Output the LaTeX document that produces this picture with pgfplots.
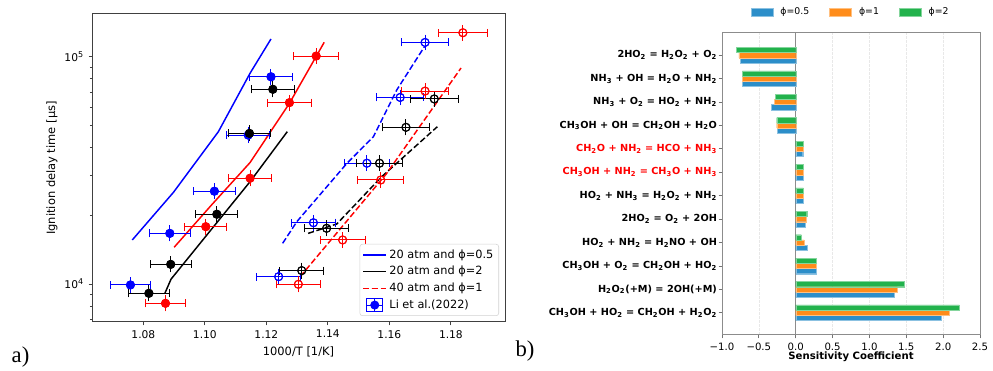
\documentclass[border=0pt]{standalone}
\usepackage{fontspec}
\setmainfont{DejaVu Sans}
\newfontfamily\serifa{Liberation Serif}
\usepackage{pgfplots}
\usepackage{pgfplotstable}
\pgfplotsset{compat=1.18}
\definecolor{cblue}{RGB}{44,142,201}
\definecolor{corange}{RGB}{255,140,26}
\definecolor{cgreen}{RGB}{34,178,76}
\newcommand{\s}[1]{\textsubscript{#1}}

% ---------- panel a data ----------
\pgfplotstableread{
x y ex
1.0758 9900 0.00648
1.0886 16700 0.00664
1.1031 25600 0.00681
1.1141 45200 0.00695
1.1215 81600 0.00704
}\bluefill
\pgfplotstableread{
x y ex
1.0818 9100 0.00655
1.0889 12200 0.00664
1.1039 20270 0.00682
1.1145 46000 0.00696
1.1221 71900 0.00705
}\blackfill
\pgfplotstableread{
x y ex
1.0872 8220 0.00662
1.1003 17870 0.00678
1.1147 29200 0.00696
1.1275 62800 0.00712
1.1362 100700 0.00723
}\redfill
\pgfplotstableread{
x y ex
1.1240 10770 0.00707
1.1353 18600 0.00722
1.1527 34000 0.00744
1.1635 66200 0.00758
1.1716 115600 0.00769
}\blueopen
\pgfplotstableread{
x y ex
1.1315 11450 0.00717
1.1396 17580 0.00727
1.1568 34000 0.00749
1.1654 48900 0.00761
1.1746 65200 0.00773
}\blackopen
\pgfplotstableread{
x y ex
1.1304 9970 0.00716
1.1448 15620 0.00734
1.1572 28680 0.00750
1.1716 70600 0.00769
1.1839 127500 0.00785
}\redopen

\pgfplotsset{
 exptx/.style={only marks, mark size=3pt, line width=0.75pt,
   error bars/x dir=both, error bars/x explicit,
   error bars/error mark=|,
   error bars/error bar style={line width=0.75pt, solid},
   error bars/error mark options={mark size=3pt, line width=0.75pt, solid}},
 expty/.style={only marks, mark size=3pt, line width=0.75pt,
   error bars/y dir=both, error bars/y fixed relative=0.04,
   error bars/error mark=-,
   error bars/error bar style={line width=0.75pt, solid},
   error bars/error mark options={mark size=3pt, line width=0.75pt, solid}},
 model/.style={no marks, line width=1.1pt},
 dashmodel/.style={no marks, line width=1.1pt, dash pattern=on 4.5pt off 2pt},
}

\begin{document}
\begin{tikzpicture}
\path[use as bounding box] (0,0) rectangle (744.75pt,278.25pt);

% ================= panel a =================
\begin{axis}[
  at={(69pt,36.75pt)}, anchor=south west,
  width=309.75pt, height=231pt, scale only axis,
  ymode=log,
  xmin=1.0633, xmax=1.1976, ymin=6804, ymax=154200,
  xtick={1.08,1.10,1.12,1.14,1.16,1.18},
  xticklabels={1.08,1.10,1.12,1.14,1.16,1.18},
  ytick={10000,100000},
  yticklabels={10\textsuperscript{4},10\textsuperscript{5}},
  minor ytick={7000,8000,9000,20000,30000,40000,50000,60000,70000,80000,90000},
  tick pos=left, tick align=outside,
  major tick length=2.6pt, minor tick length=1.6pt,
  axis line style={black!75, line width=0.75pt},
  every tick/.style={black!75, line width=0.6pt},
  tick label style={font=\fontsize{8}{9}\selectfont},
  /pgf/number format/assume math mode=true,
  xlabel={1000/T [1/K]},
  ylabel={Ignition delay time [µs]},
  label style={font=\fontsize{8.6}{10}\selectfont},
  xlabel style={at={(axis description cs:0.5,-0.0974)}, anchor=center},
  ylabel style={at={(axis description cs:-0.0969,0.5)}, anchor=center},
  legend style={at={(0.9855,0.0195)}, anchor=south east,
    draw=gray!35, rounded corners=2pt, fill=white,
    font=\fontsize{8.5}{10}\selectfont, row sep=0.6pt,
    inner xsep=2pt, inner ysep=2pt},
  legend cell align=left,
]
\addplot[model, blue] table[x=x,y=y] {
x y
1.0764 15620
1.0898 25320
1.1044 46800
1.1147 84600
1.1215 119700
};
\addlegendentry{20 atm and ϕ=0.5}
\addplot[model, black] table[x=x,y=y] {
x y
1.0870 9100
1.0890 10500
1.1147 28200
1.1268 46800
};
\addlegendentry{20 atm and ϕ=2}
\addplot[model, red, forget plot] table[x=x,y=y] {
x y
1.0900 14500
1.1023 22370
1.1147 34230
1.1275 62370
1.1388 115700
};
\addplot[dashmodel, blue, forget plot] table[x=x,y=y] {
x y
1.1253 15100
1.1299 18800
1.1462 33960
1.1548 44450
1.1624 71400
1.1714 110700
};
\addplot[dashmodel, black, forget plot] table[x=x,y=y] {
x y
1.1336 16700
1.1429 18370
1.1575 29650
1.1732 46030
1.1756 49200
};
\addplot[dashmodel, red] table[x=x,y=y] {
x y
1.1310 10770
1.1590 30500
1.1833 89200
};
\addlegendentry{40 atm and ϕ=1}

\addplot[blue, mark=*, exptx, forget plot] table[x=x,y=y,x error=ex] {\bluefill};
\addplot[blue, mark=*, expty,
  legend image code/.code={
    \draw[blue, line width=0.7pt] (2.6pt,0pt)--(14.6pt,0pt)
      (2.6pt,-5pt)--(2.6pt,5pt) (14.6pt,-5pt)--(14.6pt,5pt)
      (8.6pt,-5pt)--(8.6pt,5pt) (2.6pt,5pt)--(14.6pt,5pt) (2.6pt,-5pt)--(14.6pt,-5pt);
    \fill[blue] (8.6pt,0pt) circle (3pt);}
  ] table[x=x,y=y] {\bluefill};
\addlegendentry{Li et al.(2022)}
\addplot[black, mark=*, exptx, forget plot] table[x=x,y=y,x error=ex] {\blackfill};
\addplot[black, mark=*, expty, forget plot] table[x=x,y=y] {\blackfill};
\addplot[red, mark=*, exptx, forget plot] table[x=x,y=y,x error=ex] {\redfill};
\addplot[red, mark=*, expty, forget plot] table[x=x,y=y] {\redfill};
\addplot[blue, mark=o, exptx, forget plot] table[x=x,y=y,x error=ex] {\blueopen};
\addplot[blue, mark=o, expty, forget plot] table[x=x,y=y] {\blueopen};
\addplot[black, mark=o, exptx, forget plot] table[x=x,y=y,x error=ex] {\blackopen};
\addplot[black, mark=o, expty, forget plot] table[x=x,y=y] {\blackopen};
\addplot[red, mark=o, exptx, forget plot] table[x=x,y=y,x error=ex] {\redopen};
\addplot[red, mark=o, expty, forget plot] table[x=x,y=y] {\redopen};
\end{axis}

% ================= panel b =================
\begin{axis}[
  at={(541.5pt,27pt)}, anchor=south west,
  width=193.5pt, height=226.5pt, scale only axis,
  xbar, bar width=3.9pt,
  xmin=-1, xmax=2.5, ymin=-0.95, ymax=11.95,
  xtick={-1,-0.5,0,0.5,1,1.5,2,2.5},
  xticklabels={−1.0,−0.5,0.0,0.5,1.0,1.5,2.0,2.5},
  ytick={0,1,2,3,4,5,6,7,8,9,10,11},
  yticklabels={
    CH\s{3}OH + HO\s{2} = CH\s{2}OH + H\s{2}O\s{2},
    H\s{2}O\s{2}(+M) = 2OH(+M),
    CH\s{3}OH + O\s{2} = CH\s{2}OH + HO\s{2},
    HO\s{2} + NH\s{2} = H\s{2}NO + OH,
    2HO\s{2} = O\s{2} + 2OH,
    HO\s{2} + NH\s{3} = H\s{2}O\s{2} + NH\s{2},
    \textcolor{red}{CH\s{3}OH + NH\s{2} = CH\s{3}O + NH\s{3}},
    \textcolor{red}{CH\s{2}O + NH\s{2} = HCO + NH\s{3}},
    CH\s{3}OH + OH = CH\s{2}OH + H\s{2}O,
    NH\s{3} + O\s{2} = HO\s{2} + NH\s{2},
    NH\s{3} + OH = H\s{2}O + NH\s{2},
    2HO\s{2} = H\s{2}O\s{2} + O\s{2}},
  tick pos=left, tick align=outside,
  major tick length=2.6pt,
  axis line style={black!45, line width=0.75pt},
  every tick/.style={black!55, line width=0.6pt},
  xticklabel style={font=\fontsize{7.6}{9}\selectfont},
  yticklabel style={font=\bfseries\fontsize{7.3}{8.5}\selectfont, inner xsep=1pt},
  /pgf/number format/assume math mode=true,
  xmajorgrids, major x grid style={gray!18, line width=0.5pt, dash pattern=on 2pt off 1pt},
  extra x ticks={0}, extra x tick labels={},
  extra x tick style={xmajorgrids=true, major x grid style={black!45, solid, line width=0.9pt}},
  xlabel={Sensitivity Coefficient},
  xlabel style={font=\bfseries\fontsize{7.6}{9}\selectfont, at={(axis description cs:0.5,-0.0728)}, anchor=center},
  legend columns=3,
  legend style={at={(0.5,1.0695)}, anchor=center, draw=none, fill=none,
    font=\fontsize{7}{8}\selectfont,
    /tikz/every odd column/.append style={column sep=3.5pt},
    /tikz/every even column/.append style={column sep=13pt}},
  legend image code/.code={\fill[#1] (0pt,-2.8pt) rectangle (16.5pt,2.8pt);},
]
\addplot[bar shift=-3.9pt, fill=cblue, draw=cblue!55!white, line width=0.3pt] coordinates {
(1.97,0) (1.33,1) (0.275,2) (0.153,3) (0.135,4) (0.10,5)
(0.10,6) (0.095,7) (-0.253,8) (-0.33,9) (-0.724,10) (-0.75,11)};
\addlegendentry{ϕ=0.5}
\addplot[bar shift=0pt, fill=corange, draw=corange!55!white, line width=0.3pt] coordinates {
(2.08,0) (1.38,1) (0.284,2) (0.113,3) (0.14,4) (0.10,5)
(0.10,6) (0.10,7) (-0.258,8) (-0.294,9) (-0.724,10) (-0.77,11)};
\addlegendentry{ϕ=1}
\addplot[bar shift=3.9pt, fill=cgreen, draw=cgreen!55!white, line width=0.3pt] coordinates {
(2.22,0) (1.47,1) (0.284,2) (0.077,3) (0.149,4) (0.104,5)
(0.10,6) (0.108,7) (-0.258,8) (-0.276,9) (-0.724,10) (-0.805,11)};
\addlegendentry{ϕ=2}
\end{axis}

\node[font=\serifa\fontsize{17}{17}\selectfont] at (15.4pt,10.5pt) {a)};
\node[font=\serifa\fontsize{17}{17}\selectfont] at (393.75pt,15pt) {b)};
\end{tikzpicture}
\end{document}
